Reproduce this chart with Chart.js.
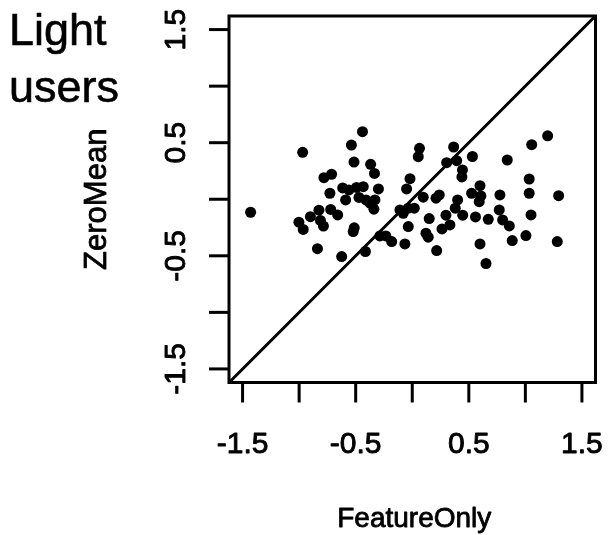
<!DOCTYPE html>
<html>
<head>
<meta charset="utf-8">
<script src="https://cdn.jsdelivr.net/npm/chart.js@4/dist/chart.umd.min.js"></script>
<style>
html,body{margin:0;padding:0;background:#fff;}
#wrap{width:608px;height:535px;}
</style>
</head>
<body>
<div id="wrap"><canvas id="c" width="608" height="535"></canvas></div>
<script>
// Data (FeatureOnly on x, ZeroMean on y)
const featureOnly = [
  -0.969,-1.429,-0.538,-0.515,-0.440,-0.781,-0.713,-0.728,-0.615,-0.560,
  -0.493,-0.433,-0.589,-0.471,-0.409,-0.374,-0.339,-0.330,-1.002,-0.964,
  -0.900,-0.825,-0.812,-0.785,-0.721,-0.659,-0.513,-0.522,-0.838,-0.624,
  -0.368,-0.334,-0.299,0.064,0.053,0.366,0.304,0.393,0.532,0.444,
  0.439,-0.020,-0.050,0.097,0.210,0.239,-0.109,-0.080,-0.035,0.018,
  0.401,0.380,0.150,0.298,0.446,0.559,0.525,0.607,0.592,0.599,
  0.333,0.263,-0.035,0.121,0.141,-0.286,-0.233,-0.182,-0.065,0.216,
  -0.414,1.197,1.056,0.840,1.034,0.775,1.034,1.294,0.672,0.769,
  0.799,0.858,1.050,1.005,0.884,0.599,1.282,0.652
];
const zeroMean = [
  0.415,-0.115,0.479,0.329,0.597,0.191,0.221,0.053,0.100,0.082,
  0.104,0.111,-0.006,0.016,-0.006,-0.035,-0.088,-0.006,-0.203,-0.267,
  -0.154,-0.097,-0.187,-0.237,-0.090,-0.139,-0.253,-0.286,-0.437,-0.507,
  0.309,0.228,0.091,0.450,0.376,0.462,0.323,0.341,0.378,0.259,
  0.197,0.182,0.091,0.018,0.009,0.038,-0.094,-0.124,-0.079,-0.079,
  -0.006,-0.079,-0.171,-0.141,-0.141,-0.156,0.053,0.029,-0.021,0.120,
  -0.227,-0.262,-0.242,-0.300,-0.335,-0.324,-0.324,-0.374,-0.395,-0.454,
  -0.462,0.561,0.482,0.347,0.179,0.038,0.053,0.032,-0.177,-0.094,
  -0.183,-0.236,-0.139,-0.321,-0.365,-0.395,-0.374,-0.568
];
const tickValues = [-1.5,-1,-0.5,0,0.5,1,1.5];
const tickLabels = ['-1.5','','-0.5','','0.5','','1.5'];
const axisLimits = [-1.62, 1.62];
const identityLine = [-1.62, 1.62];
const xTitle = 'FeatureOnly';
const yTitle = 'ZeroMean';
const panelTitle = ['Light', 'users'];

const FONT = '"Liberation Sans", Arial, Helvetica, sans-serif';

const points = featureOnly.map((x, i) => ({x: x, y: zeroMean[i]}));
const linePts = identityLine.map(v => ({x: v, y: v}));

function heavyText(ctx, txt, x, y, w) {
  ctx.lineWidth = w;
  ctx.lineJoin = 'round';
  ctx.strokeText(txt, x, y);
  ctx.fillText(txt, x, y);
}

const axesPlugin = {
  id: 'rAxes',
  afterDraw(chart) {
    const ctx = chart.ctx;
    const xs = chart.scales.x, ys = chart.scales.y;
    const a = chart.chartArea;
    ctx.save();
    ctx.strokeStyle = '#000';
    ctx.fillStyle = '#000';
    ctx.lineWidth = 3;
    // box
    ctx.strokeRect(a.left, a.top, a.right - a.left, a.bottom - a.top);
    ctx.lineCap = 'butt';
    ctx.font = '30px ' + FONT;
    ctx.textAlign = 'center';
    ctx.textBaseline = 'alphabetic';
    // x ticks
    tickValues.forEach((v, i) => {
      const px = xs.getPixelForValue(v);
      ctx.lineWidth = 3;
      ctx.beginPath();
      ctx.moveTo(px, a.bottom);
      ctx.lineTo(px, a.bottom + 20);
      ctx.stroke();
      if (tickLabels[i]) heavyText(ctx, tickLabels[i], px, 453, 0.9);
    });
    // y ticks
    tickValues.forEach((v, i) => {
      const py = ys.getPixelForValue(v);
      ctx.lineWidth = 3;
      ctx.beginPath();
      ctx.moveTo(a.left, py);
      ctx.lineTo(a.left - 20, py);
      ctx.stroke();
      if (tickLabels[i]) {
        ctx.save();
        ctx.translate(185, py);
        ctx.rotate(-Math.PI / 2);
        heavyText(ctx, tickLabels[i], 0, 0, 0.9);
        ctx.restore();
      }
    });
    // axis titles
    ctx.font = '28px ' + FONT;
    heavyText(ctx, xTitle, (a.left + a.right) / 2 + 2, 527, 0.8);
    ctx.save();
    ctx.font = '31px ' + FONT;
    ctx.translate(106, (a.top + a.bottom) / 2);
    ctx.rotate(-Math.PI / 2);
    heavyText(ctx, yTitle, 0, 0, 0.8);
    ctx.restore();
    // panel title
    ctx.font = '45px ' + FONT;
    ctx.textAlign = 'left';
    heavyText(ctx, panelTitle[0], 9, 45, 0.6);
    heavyText(ctx, panelTitle[1], 9, 102, 0.6);
    ctx.restore();
  }
};

new Chart(document.getElementById('c'), {
  type: 'scatter',
  data: {
    datasets: [
      {
        type: 'line',
        data: linePts,
        borderColor: '#000',
        borderWidth: 3,
        pointRadius: 0,
        fill: false,
        order: 2
      },
      {
        data: points,
        backgroundColor: '#000',
        borderColor: '#000',
        borderWidth: 0,
        pointRadius: 5.5,
        pointHoverRadius: 5.5,
        order: 1
      }
    ]
  },
  options: {
    responsive: false,
    animation: false,
    events: [],
    layout: { padding: { left: 229, right: 12.5, top: 16, bottom: 152.5 } },
    plugins: { legend: { display: false }, tooltip: { enabled: false } },
    scales: {
      x: { type: 'linear', min: axisLimits[0], max: axisLimits[1], display: false },
      y: { type: 'linear', min: axisLimits[0], max: axisLimits[1], display: false }
    }
  },
  plugins: [axesPlugin]
});
</script>
</body>
</html>
